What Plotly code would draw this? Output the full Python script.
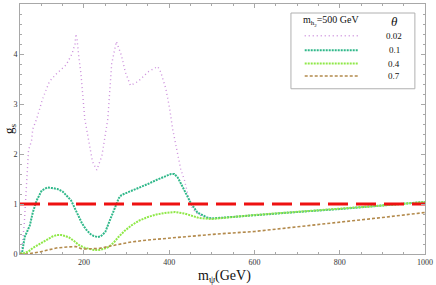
import plotly.graph_objects as go

# ---- data ----
m_002 = [50, 55, 60, 64, 67, 70, 77, 80, 89, 96, 103, 112, 119, 135, 158, 172, 179, 181, 184, 188,
         193, 202, 212, 220, 230, 242, 256, 265, 276, 288, 297, 309, 327, 350, 373, 380, 392, 401,
         408, 417, 427, 436, 445, 455, 470, 490, 500, 600, 700, 800, 900, 1000]
g_002 = [0.05, 0.15, 0.6, 1.3, 1.85, 2.08, 2.26, 2.5, 2.7, 2.9, 3.1, 3.3, 3.45, 3.6, 3.78, 4.0, 4.2, 4.4, 4.28, 3.94,
         3.6, 2.7, 2.2, 1.85, 1.68, 1.96, 2.7, 3.8, 4.25, 3.97, 3.64, 3.37, 3.45, 3.64, 3.75, 3.64, 3.31, 2.91,
         2.5, 2.1, 1.7, 1.47, 1.15, 0.9, 0.78, 0.72, 0.71, 0.78, 0.84, 0.90, 0.97, 1.04]

m_01 = [50, 55, 61, 66, 73, 80, 89, 101, 114, 125, 138, 150, 158, 170, 181, 188, 195, 204, 215, 223,
        232, 239, 250, 262, 270, 276, 282, 288, 300, 311, 330, 350, 370, 390, 404, 412, 420, 428, 436,
        450, 466, 478, 489, 500, 600, 700, 800, 900, 1000]
g_01 = [0.0, 0.03, 0.34, 0.45, 0.57, 0.83, 1.07, 1.27, 1.33, 1.32, 1.3, 1.25, 1.18, 1.07, 0.87, 0.73, 0.62, 0.5, 0.4, 0.36,
        0.34, 0.35, 0.44, 0.7, 0.88, 1.0, 1.12, 1.18, 1.22, 1.27, 1.33, 1.4, 1.48, 1.56, 1.6, 1.6, 1.53, 1.4, 1.27,
        1.03, 0.83, 0.77, 0.73, 0.71, 0.78, 0.84, 0.90, 0.97, 1.04]

m_04 = [50, 60, 70, 80, 92, 103, 115, 126, 137, 147, 156, 165, 177, 188, 200, 211, 223, 235, 246, 258,
        270, 281, 295, 311, 330, 350, 370, 390, 413, 436, 450, 459, 470, 482, 500, 600, 700, 800, 900, 1000]
g_04 = [0.01, 0.02, 0.05, 0.12, 0.18, 0.24, 0.3, 0.35, 0.38, 0.38, 0.36, 0.33, 0.26, 0.18, 0.13, 0.1, 0.08, 0.08, 0.1, 0.14,
        0.23, 0.34, 0.46, 0.57, 0.67, 0.74, 0.79, 0.82, 0.84, 0.81, 0.77, 0.74, 0.72, 0.71, 0.70, 0.78, 0.84, 0.90, 0.97, 1.04]

m_07 = [50, 66, 96, 135, 160, 181, 195, 215, 235, 274, 311, 350, 390, 430, 466, 512, 600, 700, 800, 900, 1000]
g_07 = [0.0, 0.0, 0.04, 0.12, 0.14, 0.15, 0.1, 0.1, 0.11, 0.18, 0.24, 0.28, 0.31, 0.34, 0.36, 0.4, 0.45, 0.54, 0.63, 0.73, 0.83]

theta_labels = ["0.02", "0.1", "0.4", "0.7"]
reference_gs = 1.0
x_ticks = [200, 400, 600, 800, 1000]
y_ticks = [0, 1, 2, 3, 4, 5]

# ---- styles ----
series = [
    (m_002, g_002, dict(color="#cc8fdc", width=1.4, dash="1px,3px")),
    (m_01, g_01, dict(color="#30b88a", width=2.0, dash="2px,1px")),
    (m_04, g_04, dict(color="#8fe848", width=2.0, dash="2px,1px")),
    (m_07, g_07, dict(color="#b38a4c", width=1.6, dash="3px,2px")),
]

fig = go.Figure()
for xs, ys, ln in series:
    fig.add_trace(go.Scatter(x=xs, y=ys, mode="lines", line=ln, showlegend=False, hoverinfo="skip"))

# reference line g_s = 1
fig.add_trace(go.Scatter(x=[50, 1000], y=[reference_gs, reference_gs], mode="lines",
                         line=dict(color="#ee1111", width=3, dash="20px,8px"),
                         showlegend=False, hoverinfo="skip"))

# legend samples on an auxiliary axis spanning the plot area (0..1)
row_y = [0.873, 0.815, 0.762, 0.712]
for (xs, ys, ln), ry in zip(series, row_y):
    fig.add_trace(go.Scatter(x=[0.703, 0.834], y=[ry, ry], mode="lines", line=ln,
                             xaxis="x2", yaxis="y2", showlegend=False, hoverinfo="skip"))

serif = "Liberation Serif"
axis_common = dict(showline=True, linecolor="#a8a8a8", linewidth=1, mirror="ticks",
                   ticks="inside", ticklen=4, tickcolor="#a8a8a8", showgrid=False, zeroline=False,
                   tickfont=dict(family=serif, size=8, color="#333333"))
fig.update_layout(
    width=436, height=285,
    margin=dict(l=20, r=8, t=3, b=31),
    paper_bgcolor="white", plot_bgcolor="white",
    xaxis=dict(range=[50, 1000], tickvals=x_ticks, ticktext=[str(v) for v in x_ticks],
               minor=dict(dtick=50, tick0=0, ticks="inside", ticklen=2, tickcolor="#a8a8a8"),
               **axis_common),
    yaxis=dict(range=[0, 5], tickvals=y_ticks, ticktext=[str(v) for v in y_ticks],
               minor=dict(dtick=0.2, tick0=0, ticks="inside", ticklen=2, tickcolor="#a8a8a8"),
               **axis_common),
    xaxis2=dict(domain=[0, 1], range=[0, 1], overlaying="x", visible=False, fixedrange=True),
    yaxis2=dict(domain=[0, 1], range=[0, 1], overlaying="y", visible=False, fixedrange=True),
    showlegend=False,
)

# legend box
fig.add_shape(type="rect", xref="paper", yref="paper", x0=0.669, x1=0.975, y0=0.661, y1=0.964,
              line=dict(color="#b0b0b0", width=1), fillcolor="white", layer="below")

fig.add_annotation(xref="paper", yref="paper", x=0.695, y=0.932, xanchor="left", yanchor="middle",
                   text="m<sub>h<sub>2</sub></sub>=500 GeV", showarrow=False,
                   font=dict(family=serif, size=10, color="#111111"))
fig.add_annotation(xref="paper", yref="paper", x=0.924, y=0.928, xanchor="center", yanchor="middle",
                   text="<i>θ</i>", showarrow=False, font=dict(family=serif, size=13, color="#111111"))
for lab, ry in zip(theta_labels, row_y):
    fig.add_annotation(xref="paper", yref="paper", x=0.924, y=ry, xanchor="center", yanchor="middle",
                       text=lab, showarrow=False, font=dict(family=serif, size=9, color="#111111"))

# axis titles
fig.add_annotation(xref="paper", yref="paper", x=0.505, y=-0.088, xanchor="center", yanchor="middle",
                   text="m<sub>ψ</sub>(GeV)", showarrow=False, font=dict(family=serif, size=14, color="#111111"))
fig.add_annotation(xref="paper", yref="paper", x=-0.027, y=0.5, xanchor="center", yanchor="middle",
                   text="g<sub>s</sub>", textangle=-90, showarrow=False,
                   font=dict(family=serif, size=13, color="#111111"))

fig.write_html("out.html", config={"displayModeBar": False},
               post_script="document.body.style.margin='0';document.body.style.overflow='hidden';")
